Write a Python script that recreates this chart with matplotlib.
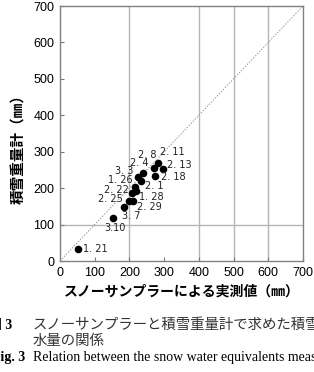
import matplotlib
matplotlib.use("Agg")
import matplotlib.pyplot as plt

# data (date labels, sampler value, gauge value)
dates = ['1. 21', '3.10', '3. 7', '2. 25', '2. 29', '2. 22', '1. 28', '1. 26',
         '2. 1', '3. 3', '2. 4', '2. 8', '2. 11', '2. 13', '2. 18']
sampler_mm = [51, 152, 185, 200, 209, 207, 219, 216, 232, 226, 240, 272, 283, 296, 274]
gauge_mm = [33, 117, 149, 166, 166, 187, 191, 203, 219, 230, 241, 255, 268, 252, 232]

ticks = [0, 100, 200, 300, 400, 500, 600, 700]
vgrid = [200, 400, 500, 600]
hgrid = [100]

# label placement in pixels (dx, dy up) and alignment
label_pos = [(5, 0, 'left'), (2, -10, 'center'), (-2, -9, 'left'), (-7, 2, 'right'),
             (4, -6, 'left'), (-3, 3, 'right'), (3, -6, 'left'), (-2, 7, 'right'),
             (4, -5, 'left'), (-5, 6, 'right'), (-13, 10, 'left'), (-16, 13, 'left'),
             (2, 11, 'left'), (4, 4, 'left'), (6, -1, 'left')]

jp = ['Noto Sans CJK JP', 'DejaVu Sans']

fig = plt.figure(figsize=(3.14, 3.72), dpi=100)
ax = fig.add_axes([60/314, 1-261/372, 243/314, 255/372])

for g in vgrid:
    ax.axvline(g, color='#b5b5b5', lw=1.0, zorder=1)
for g in hgrid:
    ax.axhline(g, color='#b5b5b5', lw=1.0, zorder=1)
ax.plot([0, 700], [0, 700], color='#999999', lw=0.7, ls=(0, (1.5, 1.5)), zorder=2)

ax.scatter(sampler_mm, gauge_mm, s=30, color='black', zorder=3, linewidths=0)
for d, x, y, (dx, dy, ha) in zip(dates, sampler_mm, gauge_mm, label_pos):
    ax.annotate(d, (x, y), xytext=(dx, dy), textcoords='offset pixels',
                ha=ha, va='center', fontsize=7, family='DejaVu Sans', color='#222222')

ax.set_xlim(0, 700)
ax.set_ylim(0, 700)
ax.set_xticks(ticks)
ax.set_yticks(ticks)
ax.tick_params(direction='in', length=3, color='#777777', labelsize=9, pad=4)
for lab in ax.get_xticklabels() + ax.get_yticklabels():
    lab.set_family('Liberation Sans')
for s in ax.spines.values():
    s.set_color('#808080')
    s.set_linewidth(1.0)

ax.set_xlabel('スノーサンプラーによる実測値（㎜）', family=jp, fontsize=10,
              fontweight='bold', labelpad=4)
fig.text(18/314, 1-146/372, '積雪重量計（㎜）', family=jp, fontsize=10.5,
         fontweight='bold', rotation=90, ha='center', va='center')

# caption, cropped at the edges like the source
fig.text(-12/314, 1-325/372, '図 3', family=['Liberation Serif'] + jp, fontsize=10,
         fontweight='bold', va='center')
fig.text(33/314, 1-325/372, 'スノーサンプラーと積雪重量計で求めた積雪',
         family=jp, fontsize=10.4, va='center', color='#333333')
fig.text(33/314, 1-341/372, '水量の関係', family=jp, fontsize=10.4, va='center',
         color='#333333')
fig.text(-8/314, 1-358/372, 'Fig. 3', family='Liberation Serif', fontsize=10,
         fontweight='bold', va='center')
fig.text(33/314, 1-358/372, 'Relation between the snow water equivalents measured',
         family='Liberation Serif', fontsize=10, va='center')

fig.savefig('out.png', dpi=100)
